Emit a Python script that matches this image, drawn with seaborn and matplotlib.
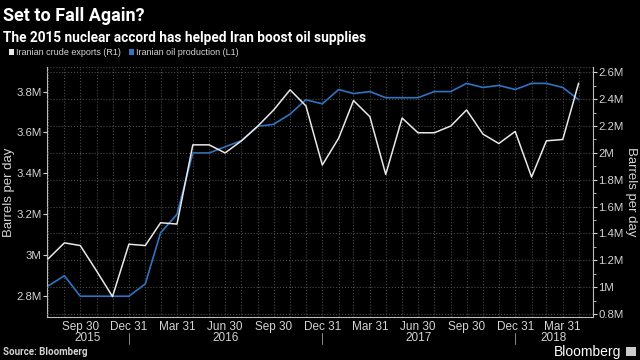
import matplotlib
matplotlib.use("Agg")
import matplotlib.pyplot as plt
import matplotlib.dates as mdates
from matplotlib.patches import Patch, Rectangle
from matplotlib.ticker import FuncFormatter, MultipleLocator
import seaborn as sns
import pandas as pd

# monthly data, Jul 2015 - Apr 2018
months = pd.date_range("2015-07-31", "2018-04-30", freq="ME")
exports_m = [1.21, 1.33, 1.31, 1.12, 0.93, 1.32,
             1.31, 1.48, 1.47, 2.06, 2.06, 2.00, 2.09, 2.20, 2.32, 2.47, 2.35, 1.91,
             2.11, 2.39, 2.27, 1.84, 2.26, 2.15, 2.15, 2.20, 2.32, 2.14, 2.07, 2.16,
             1.82, 2.09, 2.10, 2.52]
production_m = [2.85, 2.90, 2.80, 2.80, 2.80, 2.80,
                2.86, 3.11, 3.20, 3.50, 3.50, 3.53, 3.56, 3.63, 3.64, 3.69, 3.76, 3.74,
                3.81, 3.79, 3.80, 3.77, 3.77, 3.77, 3.80, 3.80, 3.84, 3.82, 3.83, 3.81,
                3.84, 3.84, 3.82, 3.76]
quarter_ticks = pd.date_range("2015-09-30", "2018-03-31", freq="QE")
years = ["2015", "2016", "2017", "2018"]

df = pd.DataFrame({"date": months, "exports": exports_m, "production": production_m})

sns.set_theme(style="dark")
plt.rcParams["font.family"] = ["Liberation Sans", "DejaVu Sans"]

WHITE = "#e8e8e8"
BLUE = "#2f74c4"
TXT = "#d4d4d4"
GRID = "#4a4a4a"

fig = plt.figure(figsize=(6.4, 3.6), dpi=100, facecolor="black")
ax = fig.add_axes([0.0734, 0.1203, 0.853, 0.6936])
ax2 = ax.twinx()
ax.set_facecolor("black")
ax2.set_facecolor("none")
ax.set_zorder(0)
ax2.set_zorder(1)

sns.lineplot(data=df, x="date", y="production", ax=ax, color=BLUE, linewidth=1.2)
sns.lineplot(data=df, x="date", y="exports", ax=ax2, color=WHITE, linewidth=1.1)

ax.set_xlim(pd.Timestamp("2015-07-29"), pd.Timestamp("2018-05-27"))
ax.set_ylim(2.70, 3.92)
ax2.set_ylim(0.78, 2.64)

ax.set_yticks([2.8, 3.0, 3.2, 3.4, 3.6, 3.8])
ax2.set_yticks([0.8, 1.0, 1.2, 1.4, 1.6, 1.8, 2.0, 2.2, 2.4, 2.6])
ax2.yaxis.set_minor_locator(MultipleLocator(0.1))
fmt = FuncFormatter(lambda v, p: f"{v:g}M")
ax.yaxis.set_major_formatter(fmt)
ax2.yaxis.set_major_formatter(fmt)

ax.set_xticks(quarter_ticks)
ax.set_xticks(months, minor=True)
ax.xaxis.set_major_formatter(mdates.DateFormatter("%b %d"))

# grid: vertical monthly, horizontal from right axis
ax.grid(False)
ax2.grid(False)
ax.xaxis.grid(True, which="both", color=GRID, linestyle=":", linewidth=0.8)
ax2.yaxis.grid(True, which="major", color=GRID, linestyle=":", linewidth=0.8)
ax.axhline(ax.get_ylim()[1], color=GRID, linestyle=":", linewidth=0.8)

ax.tick_params(axis="x", which="major", colors=TXT, labelsize=8.5, length=2, width=0.8, pad=1)
ax.tick_params(axis="x", which="minor", colors=TXT, length=2, width=0.6)
ax.tick_params(axis="y", colors=TXT, labelsize=8.2, length=3, width=0.8, pad=1, left=True)
ax2.tick_params(axis="y", which="major", colors=TXT, labelsize=8.2, length=3, width=0.8, pad=1, right=True)
ax2.tick_params(axis="y", which="minor", colors=TXT, length=2, width=0.6, right=True)

for a in (ax, ax2):
    for s in a.spines.values():
        s.set_visible(False)
ax.spines["left"].set_visible(True)
ax.spines["bottom"].set_visible(True)
ax2.spines["right"].set_visible(True)
for s in (ax.spines["left"], ax.spines["bottom"], ax2.spines["right"]):
    s.set_color("#bbbbbb")
    s.set_linewidth(0.8)

ax.set_xlabel("")
ax.set_ylabel("Barrels per day", color=TXT, fontsize=9.5, va="center")
ax.yaxis.set_label_coords(-0.069, 0.5)
ax2.set_ylabel("Barrels per day", color=TXT, fontsize=9.5, rotation=270, va="center")
ax2.yaxis.set_label_coords(1.07, 0.5)

# year labels and separators
xmin, xmax = ax.get_xlim()
bounds = [xmin] + [mdates.date2num(pd.Timestamp(f"{y}-12-31")) for y in years[:-1]] + [xmax]
trans = ax.get_xaxis_transform()
for i, y in enumerate(years):
    ax.text((bounds[i] + bounds[i + 1]) / 2, -0.087, y, transform=trans,
            ha="center", va="center", color=TXT, fontsize=8.5)
for b in bounds[1:-1]:
    ax.plot([b, b], [-0.065, -0.11], transform=trans, color="#888888",
            linewidth=0.7, clip_on=False)

# titles
fig.text(0.004, 0.955, "Set to Fall Again?", color="white", fontsize=13,
         fontweight="bold", family="Roboto", va="center")
fig.text(0.004, 0.895, "The 2015 nuclear accord has helped Iran boost oil supplies",
         color="white", fontsize=9.8, fontweight="bold", family="Roboto", va="center")

handles = [Patch(facecolor=WHITE, edgecolor="none"), Patch(facecolor=BLUE, edgecolor="none")]
fig.legend(handles, ["Iranian crude exports (R1)", "Iranian oil production (L1)"],
           loc="center left", bbox_to_anchor=(0.008, 0.853), ncol=2, frameon=False,
           handlelength=0.6, handleheight=0.6, handletextpad=0.25, columnspacing=0.8,
           fontsize=6.5, labelcolor=TXT, borderaxespad=0)

fig.text(0.004, 0.022, "Source: Bloomberg", color=TXT, fontsize=7, fontweight="bold",
         family="Roboto", va="center")
fig.text(0.97, 0.022, "Bloomberg", color="white", fontsize=10, ha="right", va="center")
fig.patches.append(Rectangle((0.978, 0.01), 0.015, 0.026, transform=fig.transFigure,
                             facecolor="#cccccc", edgecolor="none"))

fig.savefig("out.png", dpi=100, facecolor="black")
